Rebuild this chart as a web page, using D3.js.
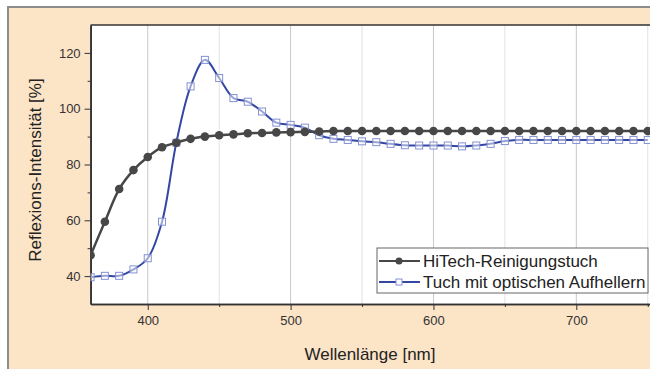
<!DOCTYPE html>
<html>
<head>
<meta charset="utf-8">
<script src="https://cdn.jsdelivr.net/npm/d3@7"></script>
<style>
  body { margin: 0; background: #fff; }
  svg { display: block; font-family: "Liberation Sans", Arial, sans-serif; }
</style>
</head>
<body>
<div class="chart"></div>
<script>
// wavelengths [nm]
const wavelengths = [360, 370, 380, 390, 400, 410, 420, 430, 440, 450,
  460, 470, 480, 490, 500, 510, 520, 530, 540, 550,
  560, 570, 580, 590, 600, 610, 620, 630, 640, 650,
  660, 670, 680, 690, 700, 710, 720, 730, 740, 750];

// HiTech-Reinigungstuch
const hitech = [47.5, 59.5, 71.2, 78.0, 82.7, 86.2, 87.8, 89.2, 90.0, 90.5,
  90.8, 91.2, 91.3, 91.5, 91.6, 91.7, 91.8, 92.0, 92.0, 92.0,
  92.0, 92.0, 92.0, 92.0, 92.0, 92.0, 92.0, 92.0, 92.0, 92.0,
  92.0, 92.0, 92.0, 92.0, 92.0, 92.0, 92.0, 92.0, 92.0, 92.0];

// Tuch mit optischen Aufhellern
const aufheller = [39.6, 40.1, 40.1, 42.4, 46.4, 59.5, 87.8, 108.0, 117.5, 111.0,
  103.8, 102.5, 99.0, 95.0, 94.2, 93.2, 90.5, 89.2, 88.8, 88.3,
  88.0, 87.4, 86.9, 86.8, 86.8, 86.8, 86.5, 86.8, 87.4, 88.4,
  88.8, 88.8, 88.8, 88.8, 88.8, 88.8, 88.8, 88.8, 88.8, 88.8];

const xMajor = [400, 500, 600, 700];
const xMinor = [450, 550, 650, 750];
const yMajor = [40, 60, 80, 100, 120];
const yMinor = [50, 70, 90, 110];

const seriesNames = ["HiTech-Reinigungstuch", "Tuch mit optischen Aufhellern"];

const width = 650;
const height = 369;
const plotLeft = 90.6, plotTop = 25, plotBottom = 304;

const svg = d3
  .select(".chart")
  .append("svg")
  .attr("width", width)
  .attr("height", height);

// beige frame
svg.append("rect")
  .attr("x", 8).attr("y", 7)
  .attr("width", 670).attr("height", 380)
  .attr("fill", "#fce4c7")
  .attr("stroke", "#8c8c8c")
  .attr("stroke-width", 2);

const x = d3.scaleLinear().domain([360, 760]).range([plotLeft, plotLeft + 400 * 1.4286]);
const y = d3.scaleLinear().domain([30, 130]).range([plotBottom, plotTop]);

// plot background
svg.append("rect")
  .attr("x", plotLeft).attr("y", plotTop)
  .attr("width", x(760) - plotLeft).attr("height", plotBottom - plotTop)
  .attr("fill", "#fff");

svg.append("clipPath").attr("id", "clip")
  .append("rect")
  .attr("x", plotLeft).attr("y", plotTop)
  .attr("width", x(760) - plotLeft).attr("height", plotBottom - plotTop);

// grid lines
svg.append("g")
  .selectAll("line")
  .data(xMajor.concat(xMinor))
  .enter()
  .append("line")
  .attr("x1", d => x(d)).attr("x2", d => x(d))
  .attr("y1", plotTop).attr("y2", plotBottom)
  .attr("stroke", d => xMajor.includes(d) ? "#c8c8c8" : "#e2e2e2")
  .attr("stroke-width", 1);

// axes
svg.append("g")
  .attr("transform", "translate(0," + plotBottom + ")")
  .call(d3.axisBottom(x).tickValues(xMajor).tickSize(6).tickPadding(6).tickSizeOuter(0));
svg.append("g")
  .attr("transform", "translate(0," + plotBottom + ")")
  .call(d3.axisBottom(x).tickValues(xMinor).tickSize(3).tickFormat("").tickSizeOuter(0));

svg.append("g")
  .attr("transform", "translate(" + plotLeft + ",0)")
  .call(d3.axisLeft(y).tickValues(yMajor).tickSize(6).tickPadding(4).tickSizeOuter(0));
svg.append("g")
  .attr("transform", "translate(" + plotLeft + ",0)")
  .call(d3.axisLeft(y).tickValues(yMinor).tickSize(3).tickFormat("").tickSizeOuter(0));

svg.selectAll(".domain").attr("stroke", "#333").attr("stroke-width", 1.6);
svg.selectAll(".tick line").attr("stroke", "#333");
svg.selectAll(".tick text")
  .attr("font-size", "13px")
  .attr("fill", "#333")
  .attr("font-family", "'Liberation Sans', Arial, sans-serif");

// top frame line
svg.append("line")
  .attr("x1", plotLeft).attr("x2", width)
  .attr("y1", plotTop).attr("y2", plotTop)
  .attr("stroke", "#333").attr("stroke-width", 1.6);

// axis titles
svg.append("text")
  .attr("x", 370).attr("y", 360)
  .attr("text-anchor", "middle")
  .attr("font-size", "17px")
  .attr("fill", "#222")
  .text("Wellenlänge [nm]");

svg.append("text")
  .attr("transform", "translate(41,170) rotate(-90)")
  .attr("text-anchor", "middle")
  .attr("font-size", "17px")
  .attr("fill", "#222")
  .text("Reflexions-Intensität [%]");

// series
const plot = svg.append("g").attr("clip-path", "url(#clip)");
const line = d3.line()
  .x((d, i) => x(wavelengths[i]))
  .y(d => y(d))
  .curve(d3.curveCatmullRom.alpha(0.5));

plot.append("path")
  .datum(aufheller)
  .attr("d", line)
  .attr("fill", "none")
  .attr("stroke", "#3447a3")
  .attr("stroke-width", 2);

plot.selectAll(".sq")
  .data(aufheller)
  .enter()
  .append("rect")
  .attr("class", "sq")
  .attr("x", (d, i) => x(wavelengths[i]) - 3.5)
  .attr("y", d => y(d) - 3.5)
  .attr("width", 7).attr("height", 7)
  .attr("fill", "rgba(255,255,255,0.5)")
  .attr("stroke", "#8391d4")
  .attr("stroke-width", 1);

plot.append("path")
  .datum(hitech)
  .attr("d", line)
  .attr("fill", "none")
  .attr("stroke", "#474747")
  .attr("stroke-width", 2.5);

plot.selectAll(".dot")
  .data(hitech)
  .enter()
  .append("circle")
  .attr("class", "dot")
  .attr("cx", (d, i) => x(wavelengths[i]))
  .attr("cy", d => y(d))
  .attr("r", 4.3)
  .attr("fill", "#474747");

// legend
const legend = svg.append("g");
legend.append("rect")
  .attr("x", 377).attr("y", 248)
  .attr("width", 271).attr("height", 45)
  .attr("fill", "#fff")
  .attr("stroke", "#666")
  .attr("stroke-width", 1);

const legendRows = [
  { name: seriesNames[0], color: "#474747", y: 261 },
  { name: seriesNames[1], color: "#3447a3", y: 282 }
];

legend.selectAll(".lline")
  .data(legendRows)
  .enter()
  .append("line")
  .attr("x1", 379).attr("x2", 420)
  .attr("y1", d => d.y).attr("y2", d => d.y)
  .attr("stroke", d => d.color)
  .attr("stroke-width", 2);

legend.append("circle")
  .attr("cx", 399).attr("cy", 261).attr("r", 3.5)
  .attr("fill", "#474747");
legend.append("rect")
  .attr("x", 396).attr("y", 279)
  .attr("width", 6).attr("height", 6)
  .attr("fill", "#fff")
  .attr("stroke", "#8391d4");

legend.selectAll(".ltext")
  .data(legendRows)
  .enter()
  .append("text")
  .attr("x", 423)
  .attr("y", d => d.y + 6)
  .attr("font-size", "17px")
  .attr("fill", "#222")
  .text(d => d.name);
</script>
</body>
</html>
